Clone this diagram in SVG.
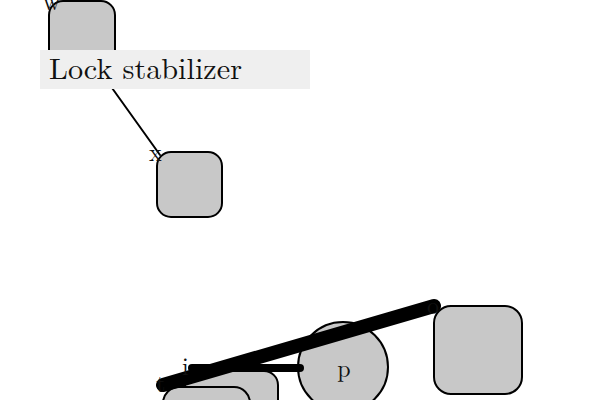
<svg xmlns="http://www.w3.org/2000/svg" width="600" height="400" viewBox="0 0 600 400">
<style>
.node{fill:#c8c8c8;stroke:#000;stroke-width:2}
.lbl{font-family:"Latin Modern Roman","DejaVu Serif","Liberation Serif",serif;font-size:24px;fill:#111}
.edge{stroke:#000;fill:none;stroke-linecap:round}
</style>
<rect width="600" height="400" fill="#fff"/>
<g id="node-w"><rect class="node" x="49" y="1" width="66" height="66" rx="14"/></g>
<g id="node-x"><rect class="node" x="157" y="152" width="65" height="65" rx="14"/></g>
<g id="node-o"><rect class="node" x="434" y="306" width="88" height="88" rx="17"/></g>
<g id="node-i"><rect class="node" x="185" y="371" width="93" height="80" rx="14"/></g>
<g id="node-p"><circle class="node" cx="343" cy="367" r="45"/></g>
<g id="node-t"><rect class="node" x="163" y="387" width="87" height="70" rx="16"/></g>
<g id="connectors">
<line class="edge" x1="97" y1="67" x2="160" y2="155" stroke-width="2"/>
<line class="edge" x1="192" y1="368" x2="300" y2="368" stroke-width="8" stroke-linecap="butt"/>
<line class="edge" x1="163" y1="385" x2="434" y2="306" stroke-width="14"/>
</g>
<g id="label-box">
<rect x="40" y="50" width="270" height="39" fill="#efefef"/>
<text x="49" y="79" font-family="'Latin Modern Roman','DejaVu Serif','Liberation Serif',serif" font-size="29" fill="#111" textLength="193" lengthAdjust="spacingAndGlyphs">Lock stabilizer</text>
</g>
<g id="labels">
<text class="lbl" x="43" y="10">w</text>
<text class="lbl" x="149" y="161">x</text>
<text class="lbl" x="182" y="375">i</text>
<text class="lbl" x="156" y="392">t</text>
<text class="lbl" x="427" y="314" fill="#555">o</text>
<text class="lbl" x="344" y="377" text-anchor="middle" font-size="26">p</text>
</g>
</svg>
